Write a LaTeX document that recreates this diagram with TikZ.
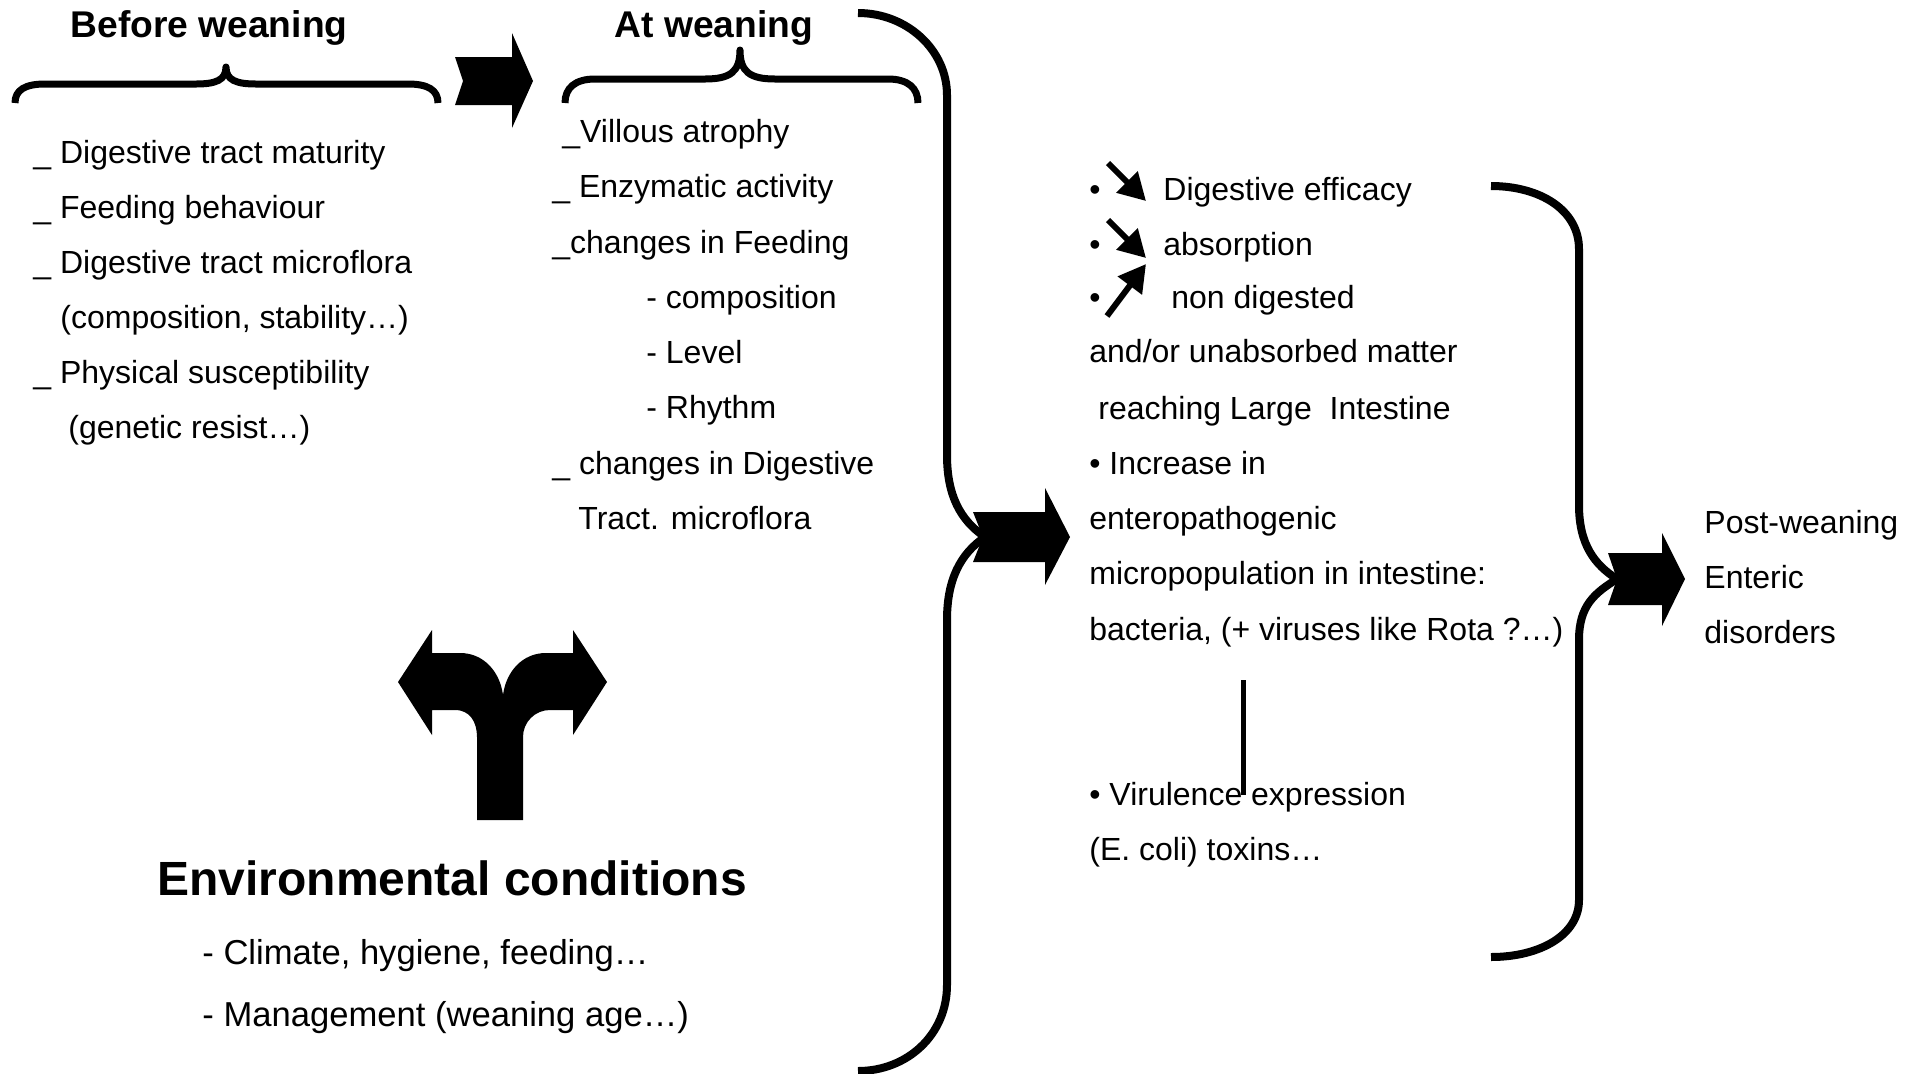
\documentclass[tikz,border=0pt]{standalone}
\usepackage{fontspec}
\setmainfont{Liberation Sans}
\usetikzlibrary{arrows.meta}

\tikzset{
	txt/.style={anchor=base west, inner sep=0pt, font=\fontsize{16}{19}\selectfont},
	bigtxt/.style={anchor=base west, inner sep=0pt, font=\fontsize{17.3}{21}\selectfont},
	ttl/.style={anchor=base, inner sep=0pt, font=\bfseries\fontsize{18.6}{22}\selectfont},
	envttl/.style={anchor=base west, inner sep=0pt, font=\bfseries\fontsize{24}{29}\selectfont},
	curly/.style={line width=3.5pt, line join=round},
	bigcurly/.style={line width=4pt, line join=round},
	blockarrow/.style={fill=black},
	trend/.style={line width=3pt, -{Triangle[length=13.5pt,width=14.5pt]}}
}

\begin{document}
\begin{tikzpicture}[x=0.5pt,y=-0.5pt]
	\useasboundingbox (0,0) rectangle (1919,1073);

	\node[ttl] (before) at (209,37) {Before weaning};
	\node[ttl] (atw) at (714,37) {At weaning};

	\draw[curly] (15,103) .. controls (15,90) and (25,84) .. (45,84) -- (196,84) .. controls (216,84) and (226,80) .. (226,67) .. controls (226,80) and (236,84) .. (256,84) -- (408,84) .. controls (428,84) and (438,90) .. (438,103);
	\draw[curly] (565,103) .. controls (565,88) and (575,79) .. (595,79) -- (705,79) .. controls (730,79) and (740,72) .. (740,50) .. controls (740,72) and (750,79) .. (775,79) -- (888,79) .. controls (908,79) and (918,88) .. (918,103);

	\fill[blockarrow] (455,57) -- (512,57) -- (512,33) -- (533,81) -- (512,128) -- (512,105) -- (455,105) -- (463,81) -- cycle;

	\foreach \x/\y/\t [count=\i] in {33/163/{\_ Digestive tract maturity}, 33/218/{\_ Feeding behaviour}, 33/273/{\_ Digestive tract microflora}, 60/328/{(composition, stability…)}, 33/383/{\_ Physical susceptibility}, 68/438/{(genetic resist…)}}
		\node[txt] (pre\i) at (\x,\y) {\t};

	\foreach \x/\y/\t [count=\i] in {562/142/{\_Villous atrophy}, 552/197/{\_ Enzymatic activity}, 552/253/{\_changes in Feeding}, 646/308/{- composition}, 646/363/{- Level}, 646/418/{- Rhythm}, 552/474/{\_ changes in Digestive}, 578/529/{Tract. microflora}}
		\node[txt] (wean\i) at (\x,\y) {\t};

	\draw[bigcurly] (858,13) .. controls (907,13) and (947,50) .. (947,95) -- (947,455) .. controls (947,495) and (960,520) .. (985,537);
	\draw[bigcurly] (985,537) .. controls (960,554) and (947,580) .. (947,620) -- (947,985) .. controls (947,1035) and (907,1071) .. (858,1071);
	\fill[blockarrow] (973,512) -- (1045,512) -- (1045,488) -- (1070,537) -- (1045,585) -- (1045,562) -- (973,562) -- (983,537) -- cycle;

	\foreach \y [count=\i] in {200,255,308}
		\node[txt] (dot\i) at (1089,\y) {•};
	\foreach \xa/\ya/\xb/\yb in {1108/163/1146/201, 1108/220/1146/258, 1107/316/1146/264}
		\draw[trend] (\xa,\ya) -- (\xb,\yb);

	\foreach \x/\y/\t [count=\i] in {1163/200/{Digestive efficacy}, 1163/255/{absorption}, 1171/308/{non digested}, 1089/362/{and/or unabsorbed matter}, 1098/419/{reaching Large\ \ Intestine}, 1089/474/{• Increase in}, 1089/529/{enteropathogenic}, 1089/584/{micropopulation in intestine:}, 1089/640/{bacteria, (+ viruses like Rota ?…)}, 1089/805/{• Virulence expression}, 1089/860/{(E. coli) toxins…}}
		\node[txt] (eff\i) at (\x,\y) {\t};

	\coordinate (vtop) at (1243,680);
	\coordinate (vbot) at (1243,795);
	\draw[line width=2.5pt] (vtop) -- (vbot);

	\draw[bigcurly] (1491,186) .. controls (1540,186) and (1579,210) .. (1579,249) -- (1579,505) .. controls (1579,545) and (1595,565) .. (1617,579);
	\draw[bigcurly] (1617,579) .. controls (1595,593) and (1579,605) .. (1579,640) -- (1579,900) .. controls (1579,935) and (1540,957) .. (1491,957);
	\fill[blockarrow] (1608,553) -- (1662,553) -- (1662,533) -- (1685,579) -- (1662,626) -- (1662,605) -- (1608,605) -- (1617,579) -- cycle;

	\foreach \y/\t [count=\i] in {533/Post-weaning, 588/Enteric, 643/disorders}
		\node[txt] (post\i) at (1704,\y) {\t};

	\fill[blockarrow] (477,820) -- (477,737) .. controls (477,722) and (470,710) .. (455,710) -- (432,710) -- (432,735) -- (398,682) -- (432,630) -- (432,653) -- (460,653) .. controls (484,653) and (500,672) .. (503,695) .. controls (506,672) and (522,653) .. (546,653) -- (573,653) -- (573,630) -- (607,682) -- (573,735) -- (573,710) -- (550,710) .. controls (535,710) and (523,722) .. (523,737) -- (523,820) -- cycle;

	\node[envttl] (env) at (157,895) {Environmental conditions};
	\node[bigtxt] (clim) at (202,964) {- Climate, hygiene, feeding…};
	\node[bigtxt] (mgmt) at (202,1026) {- Management (weaning age…)};
\end{tikzpicture}
\end{document}
